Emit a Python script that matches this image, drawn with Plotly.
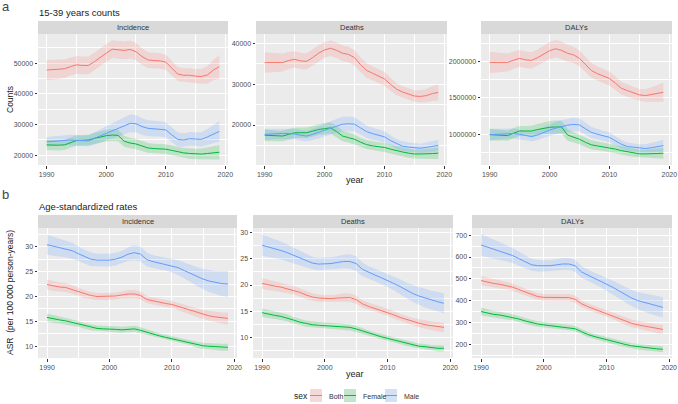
import plotly.graph_objects as go

years = list(range(1990, 2020))

# ---------- 15-39 years counts ----------
inc_both = [47800, 47900, 48000, 48200, 48900, 49500, 49300, 49300, 50500, 52000, 53300, 54600, 54400, 54200, 54500,
            53800, 52200, 51100, 50900, 50800, 50400, 48500, 46500, 46100, 46100, 45800, 45700, 46200, 47800, 48900]
inc_female = [23400, 23300, 23300, 23400, 24200, 24800, 24900, 25000, 25500, 26000, 26400, 26600, 26500, 24600, 24000,
              23700, 23000, 22400, 22200, 22100, 22000, 21600, 21100, 20800, 20600, 20400, 20400, 20600, 20800, 21000]
inc_male = [24400, 24600, 24800, 25000, 25000, 24900, 24700, 24700, 25500, 26300, 27200, 28000, 28800, 29700, 30400,
            30300, 29400, 28800, 28700, 28600, 28300, 26700, 25200, 25000, 25400, 25300, 25200, 26000, 27000, 27800]
inc_both_hw = [3300, 3200, 3100, 3000, 2900, 2900, 2900, 2900, 2900, 2900, 2900, 2900, 2900, 2900, 2900,
               2800, 2700, 2600, 2500, 2500, 2500, 2400, 2300, 2300, 2300, 2300, 2400, 2800, 3300, 3900]
inc_female_hw = [1700, 1700, 1700, 1700, 1700, 1700, 1700, 1700, 1800, 1800, 1900, 1900, 1900, 1800, 1700,
                 1700, 1600, 1600, 1600, 1600, 1600, 1600, 1600, 1600, 1700, 1700, 1800, 2000, 2200, 2400]
inc_male_hw = [1600, 1600, 1600, 1600, 1700, 1700, 1700, 1800, 1900, 2100, 2300, 2500, 2700, 2800, 2900,
               2800, 2700, 2600, 2600, 2500, 2500, 2400, 2300, 2200, 2200, 2200, 2300, 2600, 3000, 3400]

dth_both = [35300, 35300, 35300, 35300, 35800, 36100, 35700, 35600, 36500, 37600, 38400, 38800, 38300, 37600, 37300,
            36500, 34800, 33400, 32700, 32000, 31300, 30000, 28800, 28100, 27600, 27100, 27000, 27200, 27700, 28000]
dth_female = [17500, 17400, 17300, 17300, 17700, 18100, 18100, 18100, 18500, 18900, 19100, 19300, 18400, 17300, 16900,
              16500, 15800, 15200, 14900, 14700, 14500, 14100, 13700, 13400, 13100, 12900, 12900, 12900, 13000, 13100]
dth_male = [17700, 17800, 17900, 17950, 17900, 17800, 17500, 17300, 17700, 18200, 18800, 19300, 19800, 20200, 20300,
            20200, 19300, 18400, 17900, 17500, 17100, 16200, 15400, 14800, 14600, 14400, 14300, 14500, 14800, 15000]
dth_both_hw = [2500, 2400, 2300, 2200, 2100, 2000, 2000, 2000, 2000, 2000, 1900, 1900, 1900, 1900, 1900,
               1900, 1800, 1800, 1700, 1700, 1700, 1600, 1500, 1400, 1400, 1400, 1500, 1600, 1800, 2000]
dth_female_hw = [1400, 1300, 1300, 1300, 1300, 1300, 1300, 1300, 1300, 1300, 1400, 1400, 1400, 1300, 1200,
                 1200, 1100, 1100, 1100, 1100, 1100, 1100, 1100, 1100, 1100, 1100, 1100, 1200, 1300, 1400]
dth_male_hw = [1400, 1300, 1300, 1300, 1300, 1300, 1300, 1300, 1400, 1500, 1600, 1700, 1700, 1800, 1800,
               1700, 1600, 1500, 1500, 1400, 1400, 1300, 1200, 1200, 1100, 1100, 1100, 1200, 1300, 1400]

daly_both = [1985000, 1983000, 1983000, 1985000, 2015000, 2040000, 2020000, 2012000, 2050000, 2100000,
             2145000, 2172000, 2150000, 2110000, 2088000, 2040000, 1950000, 1873000, 1830000, 1800000,
             1765000, 1700000, 1630000, 1598000, 1565000, 1540000, 1530000, 1540000, 1560000, 1575000]
daly_female = [995000, 990000, 985000, 982000, 1015000, 1045000, 1045000, 1045000, 1065000, 1085000,
               1095000, 1100000, 1100000, 990000, 960000, 932000, 890000, 855000, 840000, 828000,
               817000, 797000, 776000, 760000, 745000, 732000, 731000, 733000, 737000, 740000]
daly_male = [995000, 1000000, 1005000, 1012000, 1010000, 1000000, 985000, 968000, 990000, 1025000,
             1058000, 1083000, 1105000, 1125000, 1135000, 1128000, 1075000, 1025000, 1000000, 980000,
             958000, 910000, 863000, 832000, 820000, 810000, 805000, 815000, 830000, 845000]
daly_both_hw = [145000, 138000, 130000, 123000, 118000, 115000, 113000, 112000, 112000, 115000,
                118000, 120000, 118000, 115000, 112000, 108000, 104000, 100000, 98000, 96000,
                95000, 92000, 88000, 84000, 82000, 82000, 86000, 100000, 115000, 130000]
daly_female_hw = [80000, 75000, 72000, 70000, 70000, 70000, 70000, 72000, 76000, 82000,
                  88000, 90000, 88000, 80000, 74000, 70000, 66000, 62000, 60000, 58000,
                  56000, 55000, 54000, 54000, 54000, 55000, 58000, 62000, 68000, 75000]
daly_male_hw = [80000, 75000, 72000, 70000, 68000, 66000, 66000, 66000, 68000, 72000,
                78000, 84000, 88000, 90000, 92000, 88000, 82000, 76000, 72000, 68000,
                66000, 62000, 58000, 55000, 54000, 55000, 58000, 65000, 72000, 80000]

# ---------- Age-standardized rates ----------
asr_inc_both = [22.4, 22.1, 21.9, 21.8, 21.4, 21.0, 20.5, 20.2, 20.0, 20.0, 20.0, 20.1, 20.3, 20.5, 20.5,
                20.2, 19.4, 19.1, 18.8, 18.6, 18.4, 18.0, 17.6, 17.2, 16.8, 16.4, 16.1, 15.9, 15.7, 15.6]
asr_inc_female = [15.8, 15.5, 15.3, 15.1, 14.8, 14.5, 14.1, 13.8, 13.6, 13.5, 13.5, 13.4, 13.3, 13.4, 13.5,
                  13.2, 12.8, 12.4, 12.1, 11.8, 11.5, 11.2, 11.0, 10.7, 10.3, 10.1, 10.0, 9.9, 9.8, 9.8]
asr_inc_male = [30.4, 30.1, 29.8, 29.6, 29.2, 28.6, 28.0, 27.5, 27.3, 27.3, 27.3, 27.5, 27.9, 28.5, 28.8,
                28.5, 27.4, 27.0, 26.7, 26.5, 26.2, 25.8, 25.2, 24.6, 24.0, 23.5, 23.1, 22.8, 22.6, 22.5]
asr_inc_both_hw = [1.0, 1.0, 0.9, 0.9, 0.8, 0.8, 0.8, 0.7, 0.7, 0.7, 0.7, 0.7, 0.7, 0.8, 0.8,
                   0.8, 0.7, 0.7, 0.7, 0.7, 0.7, 0.7, 0.8, 0.8, 0.9, 0.9, 1.0, 1.0, 1.1, 1.2]
asr_inc_female_hw = [0.8, 0.8, 0.7, 0.7, 0.7, 0.6, 0.6, 0.6, 0.6, 0.6, 0.6, 0.6, 0.6, 0.6, 0.6,
                     0.6, 0.6, 0.5, 0.5, 0.5, 0.5, 0.5, 0.5, 0.5, 0.6, 0.6, 0.6, 0.6, 0.7, 0.7]
asr_inc_male_hw = [2.0, 1.9, 1.8, 1.7, 1.6, 1.5, 1.4, 1.4, 1.3, 1.3, 1.3, 1.3, 1.3, 1.4, 1.5,
                   1.5, 1.4, 1.3, 1.3, 1.3, 1.4, 1.5, 1.6, 1.7, 1.9, 2.0, 2.2, 2.3, 2.5, 2.6]

asr_dth_both = [20.3, 20.0, 19.8, 19.6, 19.3, 19.0, 18.6, 18.1, 17.7, 17.5, 17.4, 17.4, 17.5, 17.6, 17.6,
                17.2, 16.4, 15.9, 15.5, 15.2, 14.8, 14.3, 13.8, 13.4, 13.0, 12.7, 12.4, 12.2, 12.0, 11.9]
asr_dth_female = [14.7, 14.4, 14.2, 14.0, 13.7, 13.3, 12.9, 12.6, 12.4, 12.3, 12.2, 12.1, 12.1, 12.0, 11.9,
                  11.6, 11.2, 10.8, 10.4, 10.1, 9.8, 9.5, 9.2, 8.9, 8.6, 8.3, 8.2, 8.0, 7.9, 7.9]
asr_dth_male = [27.6, 27.3, 26.9, 26.6, 26.2, 25.7, 25.2, 24.7, 24.2, 24.0, 24.0, 24.1, 24.3, 24.5, 24.5,
                24.1, 23.0, 22.4, 21.9, 21.4, 20.9, 20.3, 19.7, 19.0, 18.4, 17.9, 17.5, 17.1, 16.8, 16.5]
asr_dth_both_hw = [1.0, 1.0, 0.9, 0.9, 0.9, 0.8, 0.8, 0.8, 0.7, 0.7, 0.7, 0.7, 0.7, 0.8, 0.8,
                   0.8, 0.7, 0.7, 0.7, 0.7, 0.7, 0.7, 0.7, 0.7, 0.7, 0.8, 0.8, 0.8, 0.9, 0.9]
asr_dth_female_hw = [0.8, 0.8, 0.7, 0.7, 0.7, 0.6, 0.6, 0.6, 0.6, 0.6, 0.6, 0.6, 0.6, 0.6, 0.6,
                     0.6, 0.5, 0.5, 0.5, 0.5, 0.5, 0.5, 0.5, 0.5, 0.5, 0.5, 0.5, 0.5, 0.6, 0.6]
asr_dth_male_hw = [2.0, 1.9, 1.8, 1.7, 1.6, 1.5, 1.4, 1.3, 1.2, 1.2, 1.2, 1.2, 1.2, 1.3, 1.4,
                   1.4, 1.3, 1.2, 1.2, 1.2, 1.3, 1.3, 1.4, 1.5, 1.6, 1.7, 1.8, 1.8, 1.9, 1.9]

asr_daly_both = [492, 485, 479, 475, 469, 462, 451, 440, 428, 419, 415, 415, 415, 414, 414,
                 406, 386, 373, 362, 352, 342, 330, 319, 307, 296, 289, 283, 277, 272, 268]
asr_daly_female = [350, 343, 337, 334, 329, 324, 316, 307, 299, 293, 289, 286, 283, 280, 277,
                   271, 258, 245, 236, 228, 220, 212, 205, 199, 193, 189, 185, 182, 179, 177]
asr_daly_male = [655, 645, 635, 627, 618, 607, 593, 578, 565, 560, 559, 560, 564, 568, 568,
                 560, 532, 516, 503, 490, 477, 461, 445, 428, 412, 400, 392, 383, 375, 369]
asr_daly_both_hw = [22, 21, 20, 19, 18, 17, 16, 16, 15, 15, 15, 15, 15, 16, 16,
                    16, 15, 15, 15, 15, 15, 16, 16, 17, 17, 18, 18, 19, 20, 21]
asr_daly_female_hw = [18, 17, 16, 15, 15, 14, 13, 13, 13, 13, 13, 13, 13, 13, 13,
                      13, 12, 12, 12, 12, 12, 12, 12, 12, 12, 13, 13, 13, 14, 14]
asr_daly_male_hw = [50, 47, 44, 41, 38, 35, 32, 29, 27, 26, 25, 25, 26, 27, 28,
                    28, 27, 26, 26, 27, 28, 30, 32, 35, 37, 40, 42, 44, 45, 46]

facet_labels = ["Incidence", "Deaths", "DALYs"]
sex_labels = ["Both", "Female", "Male"]

# ---------- styling ----------
W, H = 678, 404
COLORS = {"Both": "#F8766D", "Female": "#00BA38", "Male": "#619CFF"}
FILLS = {"Both": "rgba(248,118,109,0.2)", "Female": "rgba(0,186,56,0.2)", "Male": "rgba(97,156,255,0.2)"}
FONT = "Liberation Sans, Arial, sans-serif"


def fx(p):
    return p / W


def fy(p):
    return 1 - p / H


panels = [
    (1, (38, 228), (34, 165), [16840, 59550], [20000, 30000, 40000, 50000], [25000, 35000, 45000, 55000],
     [(inc_both, inc_both_hw), (inc_female, inc_female_hw), (inc_male, inc_male_hw)]),
    (2, (256, 447), (34, 165), [10200, 42300], [20000, 30000, 40000], [15000, 25000, 35000],
     [(dth_both, dth_both_hw), (dth_female, dth_female_hw), (dth_male, dth_male_hw)]),
    (3, (481, 672), (34, 165), [579000, 2374000], [1000000, 1500000, 2000000], [750000, 1250000, 1750000, 2250000],
     [(daly_both, daly_both_hw), (daly_female, daly_female_hw), (daly_male, daly_male_hw)]),
    (4, (38, 237), (228, 358), [7.65, 33.75], [10, 15, 20, 25, 30], [7.5, 12.5, 17.5, 22.5, 27.5, 32.5],
     [(asr_inc_both, asr_inc_both_hw), (asr_inc_female, asr_inc_female_hw), (asr_inc_male, asr_inc_male_hw)]),
    (5, (253, 453), (228, 358), [6.04, 30.9], [10, 15, 20, 25, 30], [7.5, 12.5, 17.5, 22.5, 27.5],
     [(asr_dth_both, asr_dth_both_hw), (asr_dth_female, asr_dth_female_hw), (asr_dth_male, asr_dth_male_hw)]),
    (6, (472, 672), (228, 358), [137, 733], [200, 300, 400, 500, 600, 700], [150, 250, 350, 450, 550, 650],
     [(asr_daly_both, asr_daly_both_hw), (asr_daly_female, asr_daly_female_hw), (asr_daly_male, asr_daly_male_hw)]),
]

fig = go.Figure()
layout = dict(
    template="none",
    width=W, height=H, margin=dict(l=0, r=0, t=0, b=0, pad=0),
    paper_bgcolor="white", plot_bgcolor="#EBEBEB", showlegend=False,
    font=dict(family=FONT, size=7, color="#4D4D4D"),
)
shapes = []
annotations = []

for (idx, xr, ypx, yrange, yticks, yminor, series) in panels:
    xa = "x" if idx == 1 else f"x{idx}"
    ya = "y" if idx == 1 else f"y{idx}"
    for sex, (vals, hw) in zip(sex_labels, series):
        lo = [v - h for v, h in zip(vals, hw)]
        hi = [v + h for v, h in zip(vals, hw)]
        fig.add_trace(go.Scatter(x=years + years[::-1], y=hi + lo[::-1], fill="toself",
                                 fillcolor=FILLS[sex], line=dict(width=0), mode="lines",
                                 hoverinfo="skip", xaxis=xa, yaxis=ya))
    for sex, (vals, hw) in zip(sex_labels, series):
        fig.add_trace(go.Scatter(x=years, y=vals, mode="lines", name=sex,
                                 line=dict(color=COLORS[sex], width=1), xaxis=xa, yaxis=ya))
    axcommon = dict(showline=False, zeroline=False, ticks="outside", ticklen=2.5, tickwidth=0.8,
                    tickcolor="#333333", showgrid=True, gridcolor="white", gridwidth=1,
                    tickfont=dict(family=FONT, size=7, color="#4D4D4D"))
    layout["xaxis" if idx == 1 else f"xaxis{idx}"] = dict(
        domain=[fx(xr[0]), fx(xr[1])], anchor=ya, range=[1988.55, 2020.45],
        tickvals=[1990, 2000, 2010, 2020], ticktext=["1990", "2000", "2010", "2020"],
        minor=dict(tickvals=[1995, 2005, 2015], showgrid=True, gridcolor="white", gridwidth=0.5, ticks=""),
        **axcommon)
    layout["yaxis" if idx == 1 else f"yaxis{idx}"] = dict(
        domain=[fy(ypx[1]), fy(ypx[0])], anchor=xa, range=yrange,
        tickvals=yticks, ticktext=[str(t) for t in yticks],
        minor=dict(tickvals=yminor, showgrid=True, gridcolor="white", gridwidth=0.5, ticks=""),
        **axcommon)
    strip_top = ypx[0] - 13
    shapes.append(dict(type="rect", xref="paper", yref="paper", x0=fx(xr[0]), x1=fx(xr[1]),
                       y0=fy(ypx[0]), y1=fy(strip_top), fillcolor="#D9D9D9", line=dict(width=0), layer="below"))
    annotations.append(dict(text=facet_labels[(idx - 1) % 3], xref="paper", yref="paper",
                            x=fx((xr[0] + xr[1]) / 2), y=fy((ypx[0] + strip_top) / 2),
                            showarrow=False, xanchor="center", yanchor="middle",
                            font=dict(family=FONT, size=7.5, color="#333333")))


def ann(text, x, y, size, color="#1A1A1A", xanchor="left", yanchor="middle", angle=0):
    annotations.append(dict(text=text, xref="paper", yref="paper", x=fx(x), y=fy(y), showarrow=False,
                            xanchor=xanchor, yanchor=yanchor, textangle=angle,
                            font=dict(family=FONT, size=size, color=color)))


ann("a", 0, 6, 13, color="#444444")
ann("15-39 years counts", 37, 12, 9.5, color="#222222")
ann("b", 0, 194, 13, color="#444444")
ann("Age-standardized rates", 37, 206, 9.5, color="#222222")
ann("Counts", 10, 100, 8.5, angle=-90, xanchor="center", color="#222222")
ann("ASR  (per 100 000 person-years)", 10, 293, 8.5, angle=-90, xanchor="center", color="#222222")
ann("year", 355, 180, 9, xanchor="center", color="#222222")
ann("year", 355, 374, 9, xanchor="center", color="#222222")

# legend drawn ggplot-style
ann("sex", 292, 396, 8.5, color="#222222")
leg_items = [("Both", 310, 327), ("Female", 344, 361), ("Male", 385, 402)]
for sex, kx, tx in leg_items:
    shapes.append(dict(type="rect", xref="paper", yref="paper", x0=fx(kx), x1=fx(kx + 12),
                       y0=fy(402), y1=fy(389), fillcolor="#F2F2F2", line=dict(width=0)))
    shapes.append(dict(type="rect", xref="paper", yref="paper", x0=fx(kx), x1=fx(kx + 12),
                       y0=fy(402), y1=fy(389), fillcolor=FILLS[sex], line=dict(width=0)))
    shapes.append(dict(type="line", xref="paper", yref="paper", x0=fx(kx), x1=fx(kx + 12),
                       y0=fy(395.5), y1=fy(395.5), line=dict(color=COLORS[sex], width=1)))
    ann(sex, tx, 396, 7, color="#333333")

layout["shapes"] = shapes
layout["annotations"] = annotations
fig.update_layout(**layout)
fig.write_html("out.html", config={"displayModeBar": False},
               post_script="document.body.style.margin='0px';document.body.style.padding='0px';")
